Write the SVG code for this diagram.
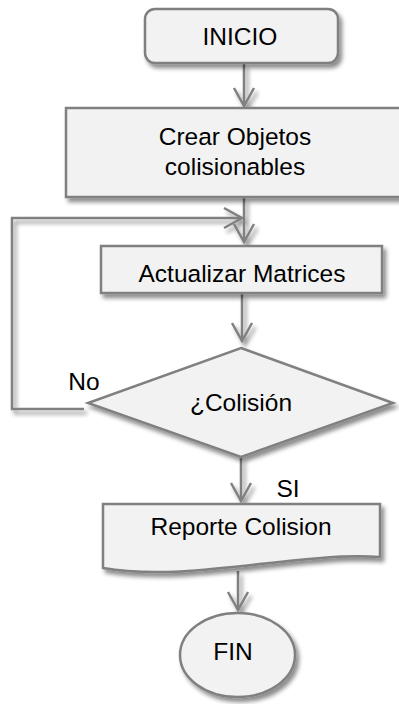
<svg xmlns="http://www.w3.org/2000/svg" width="399" height="704" viewBox="0 0 399 704">
<defs>
<filter id="sh" x="-10%" y="-10%" width="130%" height="140%">
<feDropShadow dx="3" dy="4" stdDeviation="2" flood-color="#000" flood-opacity="0.45"/>
</filter>
<marker id="ah" viewBox="-21 -12 24 24" refX="0" refY="0" markerWidth="24" markerHeight="24" markerUnits="userSpaceOnUse" orient="auto">
<path d="M-18,-10 L0,0 L-18,10" fill="none" stroke="#808080" stroke-width="2.5"/>
</marker>
</defs>
<style>
.box{fill:#f2f2f2;stroke:#808080;stroke-width:2.5;filter:url(#sh)}
.t{font-family:"Liberation Sans",Arial,sans-serif;font-size:24.5px;fill:#000;text-anchor:middle}
.c{fill:none;stroke:#808080;stroke-width:2.5}
.a{marker-end:url(#ah)}
</style>
<g id="connectors" filter="url(#sh)">
<line class="c a" x1="244" y1="64" x2="244" y2="106"/>
<line class="c a" x1="244" y1="198" x2="244" y2="242"/>
<line class="c a" x1="242" y1="294" x2="242" y2="341"/>
<line class="c a" x1="241" y1="458" x2="241" y2="501"/>
<line class="c a" x1="238" y1="571" x2="238" y2="610"/>
<path class="c a" d="M84,409 L12,409 L12,218 L242,218"/>
</g>
<g id="inicio">
<rect class="box" x="145" y="9" width="193" height="54" rx="10"/>
<text class="t" x="240" y="45">INICIO</text>
</g>
<g id="crear">
<rect class="box" x="66" y="108" width="345" height="89"/>
<text class="t" x="235" y="145">Crear Objetos</text>
<text class="t" x="235" y="175">colisionables</text>
</g>
<g id="actualizar">
<rect class="box" x="101" y="246" width="281" height="47"/>
<text class="t" x="242" y="282">Actualizar Matrices</text>
</g>
<g id="colision">
<polygon class="box" points="241,348 393,403 241,457 88,403"/>
<text class="t" x="241" y="411">¿Colisión</text>
</g>
<g id="labels">
<text class="t" x="84" y="390">No</text>
<text class="t" x="288" y="497">SI</text>
</g>
<g id="reporte">
<path class="box" d="M103,504 L380,504 L380,557 C300,551 190,583 103,568 Z"/>
<text class="t" x="241" y="535">Reporte Colision</text>
</g>
<g id="fin">
<ellipse class="box" cx="237.5" cy="655" rx="57.5" ry="42"/>
<text class="t" x="233" y="660">FIN</text>
</g>
</svg>
